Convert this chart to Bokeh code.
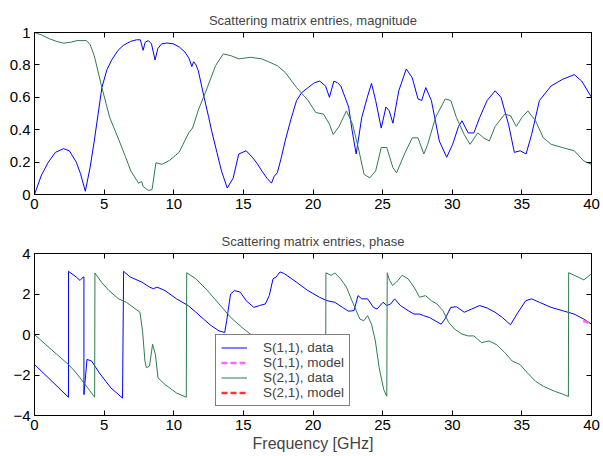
from bokeh.plotting import figure
from bokeh.layouts import column
from bokeh.models import LinearAxis, Range1d, Legend, LegendItem, FixedTicker, NumeralTickFormatter
from bokeh.embed import file_html
from bokeh.resources import INLINE

# ---------------- data ----------------
freq_ticks = [0, 5, 10, 15, 20, 25, 30, 35, 40]
mag_ticks = [0, 0.2, 0.4, 0.6, 0.8, 1]
phase_ticks = [-4, -2, 0, 2, 4]

s11_mag_f = [0, 0.5, 1.0, 1.5, 2.08, 2.5, 3.0, 3.3, 3.65, 4.0, 4.29, 4.84, 5.2, 5.54, 6.0, 6.37, 6.9, 7.33, 7.6,
             7.8, 7.95, 8.17, 8.4, 8.66, 8.85, 9.13, 9.5, 9.97, 10.4, 10.8, 11.1, 11.3, 11.43, 11.6, 11.76, 12.18,
             12.5, 12.73, 13.1, 13.43, 13.84, 14.26, 14.67, 15.2, 15.64, 16.0, 16.33, 16.7, 17.02, 17.2, 17.44,
             17.7, 18.0, 18.4, 18.82, 19.2, 19.65, 20.1, 20.48, 20.9, 21.18, 21.5, 21.75, 22.0, 22.3, 22.56, 22.8,
             23.1, 23.5, 23.9, 24.2, 24.5, 24.9, 25.24, 25.47, 25.74, 26.16, 26.7, 27.13, 27.54, 27.8, 28.1, 28.5,
             28.8, 29.07, 29.6, 30.03, 30.45, 30.7, 31.14, 31.55, 31.97, 32.5, 33.08, 33.5, 34.05, 34.46, 34.88,
             35.3, 35.7, 36.26, 37.1, 37.9, 38.76, 39.3, 40.0]
s11_mag = [0, 0.12, 0.2, 0.26, 0.283, 0.27, 0.2, 0.13, 0.02, 0.17, 0.33, 0.66, 0.77, 0.83, 0.89, 0.92, 0.945, 0.955,
           0.955, 0.89, 0.94, 0.95, 0.93, 0.83, 0.9, 0.93, 0.935, 0.93, 0.91, 0.88, 0.84, 0.79, 0.82, 0.8, 0.765, 0.6,
           0.48, 0.39, 0.26, 0.145, 0.04, 0.1, 0.25, 0.27, 0.23, 0.19, 0.145, 0.1, 0.07, 0.11, 0.135, 0.22, 0.33,
           0.46, 0.58, 0.63, 0.66, 0.69, 0.70, 0.67, 0.6, 0.70, 0.69, 0.67, 0.6, 0.54, 0.4, 0.25, 0.475, 0.6, 0.686,
           0.58, 0.41, 0.54, 0.517, 0.44, 0.64, 0.775, 0.72, 0.59, 0.58, 0.66, 0.58, 0.45, 0.33, 0.23, 0.31, 0.42,
           0.455, 0.38, 0.38, 0.475, 0.58, 0.64, 0.6, 0.43, 0.26, 0.27, 0.25, 0.37, 0.58, 0.67, 0.71, 0.74, 0.70, 0.6]

s21_mag_f = [0, 0.5, 1.1, 1.6, 2.08, 2.6, 3.05, 3.74, 4.0, 4.29, 4.84, 5.4, 6.09, 6.5, 6.92, 7.47, 7.7, 7.8, 8.17,
             8.44, 8.72, 9.14, 9.69, 10.38, 11.07, 11.35, 11.76, 12.32, 13.0, 13.56, 14.1, 14.67, 15.5, 16.33, 16.9,
             17.44, 18.0, 18.82, 19.65, 20.2, 20.76, 21.18, 21.45, 21.87, 22.4, 22.84, 23.25, 23.67, 24.08, 24.5,
             24.9, 25.3, 25.74, 26.0, 26.57, 27.13, 27.54, 27.96, 28.24, 28.8, 29.5, 29.9, 30.3, 30.86, 31.28, 31.83,
             32.25, 32.66, 33.08, 33.77, 34.19, 34.6, 35.0, 35.43, 35.98, 36.54, 37.1, 37.9, 38.76, 39.45, 40.0]
s21_mag = [1.0, 0.985, 0.96, 0.945, 0.934, 0.94, 0.95, 0.95, 0.925, 0.857, 0.66, 0.475, 0.33, 0.24, 0.145, 0.07,
           0.08, 0.05, 0.025, 0.03, 0.196, 0.186, 0.21, 0.26, 0.38, 0.41, 0.52, 0.64, 0.795, 0.868, 0.857, 0.837,
           0.847, 0.837, 0.816, 0.795, 0.754, 0.66, 0.58, 0.506, 0.496, 0.434, 0.37, 0.42, 0.516, 0.434, 0.29, 0.124,
           0.103, 0.145, 0.29, 0.29, 0.165, 0.134, 0.25, 0.35, 0.35, 0.25, 0.31, 0.475, 0.59, 0.58, 0.475, 0.37,
           0.31, 0.38, 0.35, 0.33, 0.42, 0.496, 0.486, 0.42, 0.475, 0.516, 0.455, 0.35, 0.31, 0.29, 0.27, 0.207, 0.186]

s11_ph_f = [0, 2.44, 2.44, 3.0, 3.27, 3.5, 3.55, 3.55, 3.77, 4.1, 4.66, 5.49, 6.32, 6.4, 6.87, 7.7, 8.26, 8.54, 8.8,
            9.37, 10.2, 11.03, 11.59, 12.14, 12.7, 13.25, 13.66, 13.8, 14.08, 14.36, 14.78, 15.2, 15.75, 16.16, 16.58,
            16.86, 17.13, 17.35, 17.63, 17.96, 18.8, 19.63, 20.46, 21.0, 21.57, 22.12, 22.54, 22.95, 23.23, 23.5,
            23.92, 24.34, 24.6, 25.03, 25.3, 25.58, 25.86, 26.28, 26.83, 27.25, 27.66, 27.94, 28.36, 28.77, 29.2,
            29.47, 29.9, 30.3, 30.86, 31.4, 31.97, 32.5, 33.07, 33.6, 34.18, 34.73, 35.28, 35.7, 36.26, 37.1, 37.9,
            38.75, 39.45, 40.0]
s11_ph = [-1.48, -3.1, 3.12, 2.84, 2.67, 2.84, 2.84, -2.97, -1.23, -1.31, -1.9, -2.64, -3.14, 3.12, 2.84, 2.59,
          2.34, 2.26, 2.34, 2.17, 1.76, 1.43, 1.1, 0.76, 0.43, 0.18, 0.1, 0.68, 2.0, 2.17, 2.09, 1.67, 1.34, 1.43,
          1.51, 1.92, 2.75, 2.84, 3.09, 3.0, 2.59, 2.17, 1.84, 1.67, 1.59, 1.34, 1.15, 1.18, 1.92, 1.76, 1.76, 1.34,
          1.26, 1.59, 1.43, 1.51, 1.76, 1.43, 1.18, 1.01, 1.01, 0.93, 0.84, 0.68, 0.51, 0.76, 1.34, 1.37, 1.1, 1.26,
          1.43, 1.31, 1.1, 0.84, 0.48, 1.1, 1.67, 1.76, 1.59, 1.34, 1.18, 1.01, 0.76, 0.51]

s21_ph_f = [0, 0.78, 1.6, 2.44, 3.0, 3.55, 4.1, 4.32, 4.34, 4.8, 5.35, 6.04, 6.6, 7.15, 7.57, 7.76, 7.93, 8.04, 8.26,
            8.48, 8.68, 8.87, 9.37, 10.2, 10.9, 10.93, 11.59, 12.42, 13.25, 14.08, 14.9, 15.75, 17.0, 18.5, 20.0, 20.9,
            20.93, 21.3, 21.57, 21.98, 22.4, 22.8, 23.1, 23.37, 23.65, 23.92, 24.2, 24.48, 24.75, 25.08, 25.3, 25.33,
            25.5, 25.72, 26.0, 26.4, 26.83, 27.25, 27.66, 28.08, 28.5, 28.9, 29.33, 29.74, 30.16, 30.7, 31.13, 31.55,
            32.1, 32.65, 33.2, 33.77, 34.3, 34.87, 35.4, 35.98, 36.54, 37.37, 37.92, 38.34, 38.36, 39.03, 39.45, 40.0]
s21_ph = [0, -0.48, -0.98, -1.48, -1.9, -2.39, -2.89, -3.1, 3.04, 2.59, 2.17, 1.76, 1.59, 1.31, 1.1, 0.18, -1.31,
          -1.64, -1.56, -0.48, -0.98, -2.14, -2.47, -2.89, -3.1, 3.05, 2.75, 2.17, 1.51, 0.85, 0.35, -0.12, -0.9,
          -1.9, -2.7, -3.1, 3.05, 2.92, 3.04, 2.75, 2.34, 1.67, 1.18, 0.76, 0.68, 0.93, 0.51, -0.32, -1.64, -2.72,
          -3.05, 3.05, 2.67, 2.42, 2.59, 2.92, 2.75, 2.34, 1.84, 1.92, 1.67, 1.51, 1.18, 0.6, 0.27, 0.02, -0.07,
          -0.07, -0.4, -0.32, -0.51, -0.89, -1.31, -1.48, -1.9, -2.31, -2.56, -2.81, -2.94, -3.06, 3.05, 2.84, 2.7, 3.0]

s11_model_f = [39.4, 39.7, 40.0]
s11_model_ph = [0.68, 0.6, 0.52]
# S(2,1) model is not visible in the reference plot area (only in the legend)
s21_model_f = [39.5, 40.0]
s21_model_ph = [float("nan"), float("nan")]

legend_labels = ["S(1,1), data", "S(1,1), model", "S(2,1), data", "S(2,1), model"]

# ---------------- styling ----------------
FONT = "Liberation Sans"
BLUE = "#0000ff"
GREEN = "#2e7d4f"
PINK = "#ff66ff"
RED = "#ff3333"


def style(p, xt, yt, fmt=None):
    p.title.text_font = FONT
    p.title.text_font_size = "13px"
    p.title.text_font_style = "normal"
    p.title.align = "center"
    p.title.offset = 0
    p.xgrid.visible = False
    p.ygrid.visible = False
    p.outline_line_color = "black"
    p.outline_line_width = 1
    for ax in list(p.below) + list(p.left):
        ax.major_tick_in = 5
        ax.major_tick_out = 0
        ax.minor_tick_line_color = None
        ax.axis_line_color = "black"
        ax.major_tick_line_color = "black"
        ax.major_label_text_font = FONT
        ax.major_label_text_font_size = "15px"
        ax.major_label_text_color = "black"
        ax.major_label_standoff = 4
    p.below[0].ticker = FixedTicker(ticks=xt)
    p.left[0].ticker = FixedTicker(ticks=yt)
    if fmt is not None:
        p.left[0].formatter = fmt
    top = LinearAxis(ticker=FixedTicker(ticks=xt), major_tick_in=5, major_tick_out=0,
                     minor_tick_line_color=None, major_label_text_font_size="1px",
                     major_label_text_color=None,
                     axis_line_color="black", major_label_standoff=0)
    right = LinearAxis(ticker=FixedTicker(ticks=yt), major_tick_in=5, major_tick_out=0,
                       minor_tick_line_color=None, major_label_text_font_size="1px",
                       major_label_text_color=None,
                       axis_line_color="black", major_label_standoff=0)
    p.add_layout(top, "above")
    p.add_layout(right, "right")


p1 = figure(width=603, height=226, output_backend="svg", toolbar_location=None,
            x_range=Range1d(0, 40), y_range=Range1d(0, 1),
            title="Scattering matrix entries, magnitude",
            min_border_left=34, min_border_right=12, min_border_top=32, min_border_bottom=32)
p1.line(s11_mag_f, s11_mag, line_color=BLUE, line_width=1)
p1.line(s21_mag_f, s21_mag, line_color=GREEN, line_width=1)
style(p1, freq_ticks, mag_ticks, NumeralTickFormatter(format="0.[0]"))

p2 = figure(width=603, height=230, output_backend="svg", toolbar_location=None,
            x_range=Range1d(0, 40), y_range=Range1d(-4, 4),
            title="Scattering matrix entries, phase",
            min_border_left=34, min_border_right=12, min_border_top=27, min_border_bottom=41)
r1 = p2.line(s11_ph_f, s11_ph, line_color=BLUE, line_width=1)
r3 = p2.line(s21_ph_f, s21_ph, line_color=GREEN, line_width=1)
r2 = p2.line(s11_model_f, s11_model_ph, line_color=PINK, line_width=2.5, line_dash="6 3")
r4 = p2.line(s21_model_f, s21_model_ph, line_color=RED, line_width=2.5, line_dash="6 3")
style(p2, freq_ticks, phase_ticks)
xb = p2.below[0]
xb.axis_label = "Frequency [GHz]"
xb.axis_label_text_font = FONT
xb.axis_label_text_font_size = "16px"
xb.axis_label_text_font_style = "normal"
xb.axis_label_standoff = 2

legend = Legend(items=[LegendItem(label=legend_labels[0], renderers=[r1]),
                       LegendItem(label=legend_labels[1], renderers=[r2]),
                       LegendItem(label=legend_labels[2], renderers=[r3]),
                       LegendItem(label=legend_labels[3], renderers=[r4])],
                location=(181, 9), border_line_color="black", border_line_width=1.5,
                background_fill_alpha=1.0, label_text_font=FONT, label_text_font_size="13.5px",
                glyph_width=26, glyph_height=15, label_height=15, spacing=0, padding=5,
                label_standoff=16, margin=0)
p2.add_layout(legend)

layout = column(p1, p2, spacing=0)
open("out.html", "w").write(file_html(layout, INLINE))
